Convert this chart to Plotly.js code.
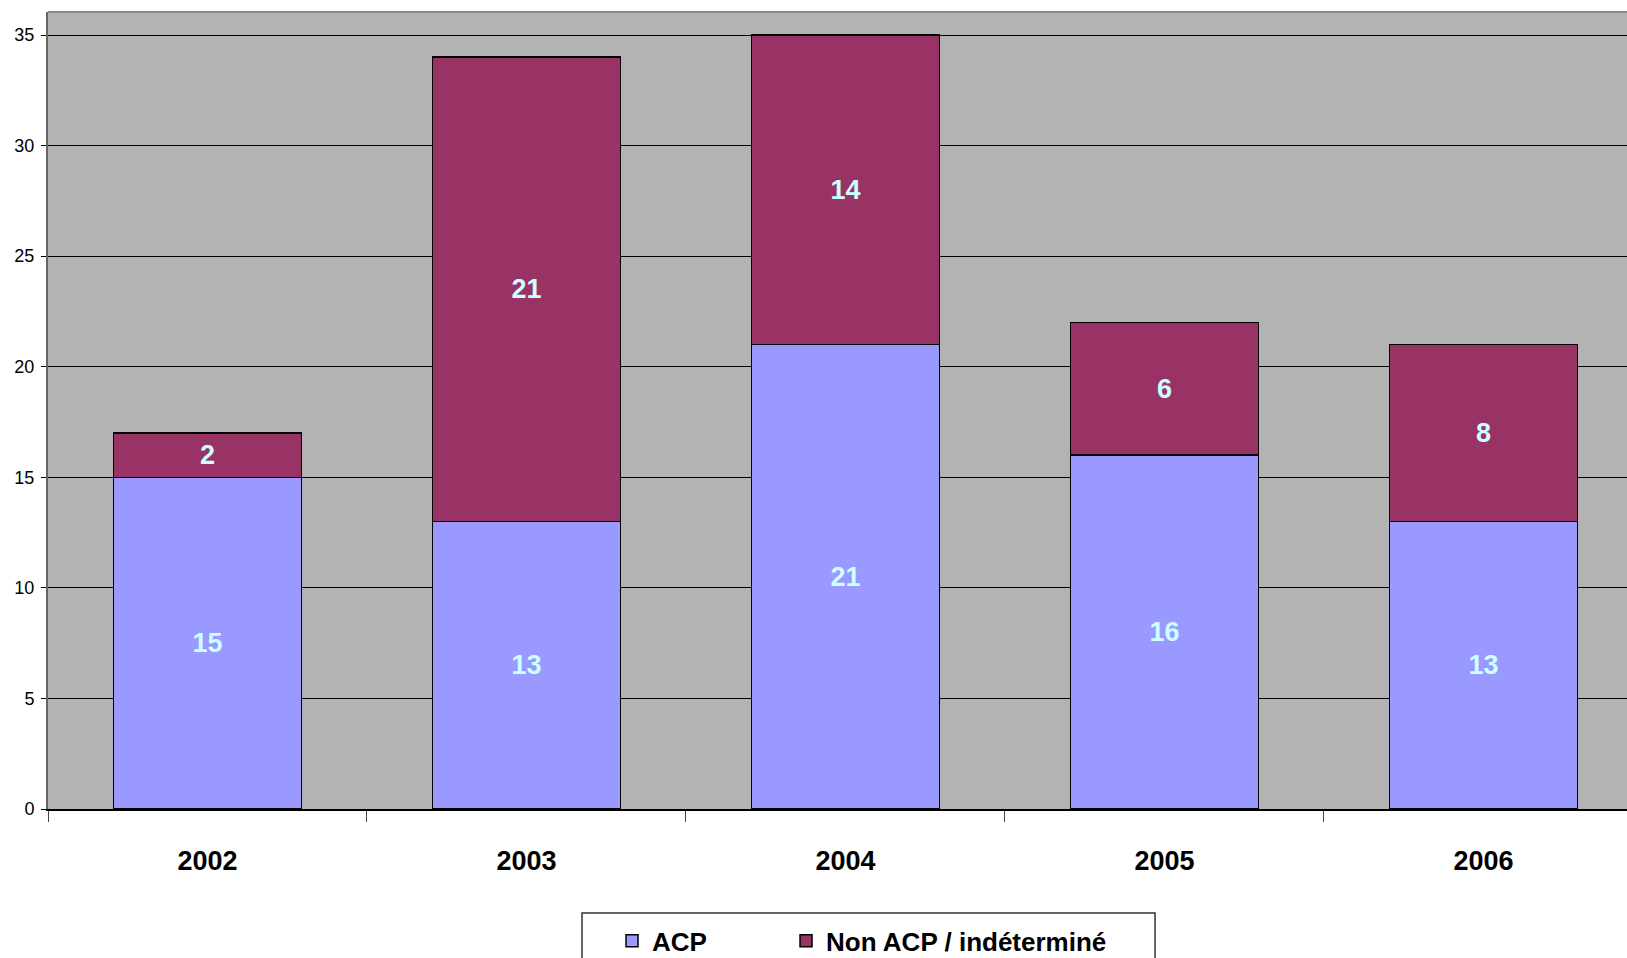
<!DOCTYPE html>
<html><head><meta charset="utf-8">
<script src="https://cdn.plot.ly/plotly-3.0.1.min.js"></script>
<style>html,body{margin:0;padding:0;background:#fff;}#chart{width:1627px;height:958px;}</style>
</head><body><div id="chart"></div>
<script>
const years = ['2002', '2003', '2004', '2005', '2006'];
const acp = [15, 13, 21, 16, 13];
const nonAcp = [2, 21, 14, 6, 8];
const seriesNames = ['ACP', 'Non ACP / indéterminé'];

const FONT = '"Liberation Sans", Arial, sans-serif';
const labelFont = {family: FONT, size: 27, color: '#ccffff', weight: 'bold'};

const common = {
  type: 'bar', x: years, width: 0.59,
  textposition: 'inside', insidetextanchor: 'middle', textangle: 0,
  constraintext: 'none', texttemplate: '%{y}', textfont: labelFont,
  hoverinfo: 'none'
};
const traces = [
  Object.assign({}, common, {name: seriesNames[0], y: acp, legend: 'legend',
    marker: {color: '#9999ff', line: {color: '#000', width: 1.5}}}),
  Object.assign({}, common, {name: seriesNames[1], y: nonAcp, legend: 'legend2',
    marker: {color: '#993366', line: {color: '#000', width: 1.5}}})
];

const legendCommon = {
  orientation: 'h', yanchor: 'top', xanchor: 'left', y: -0.136,
  font: {family: FONT, size: 26, color: '#000', weight: 'bold'},
  borderwidth: 0, bgcolor: 'rgba(0,0,0,0)'
};

const layout = {
  width: 1627, height: 958,
  margin: {l: 48, r: 0, t: 12, b: 149, autoexpand: false},
  paper_bgcolor: '#ffffff', plot_bgcolor: '#b3b3b3',
  barmode: 'stack', bargap: 0.41,
  showlegend: true,
  legend: Object.assign({}, legendCommon, {x: 0.3572}),
  legend2: Object.assign({}, legendCommon, {x: 0.4674}),
  xaxis: {
    type: 'category', range: [-0.5, 4.45],
    ticks: 'outside', ticklen: 11, tickcolor: '#444', tickwidth: 1,
    tickson: 'boundaries', ticklabelstandoff: 27,
    tickfont: {family: FONT, size: 27, color: '#000', weight: 'bold'},
    showline: true, linecolor: '#000', linewidth: 1.5,
    showgrid: false, zeroline: false, fixedrange: true
  },
  yaxis: {
    range: [0, 36.04], dtick: 5, tick0: 0,
    ticks: 'outside', ticklen: 5, tickcolor: '#000', tickwidth: 1,
    ticklabelstandoff: 3,
    tickfont: {family: FONT, size: 18, color: '#000'},
    showgrid: true, gridcolor: '#000', gridwidth: 1,
    showline: true, linecolor: '#666', linewidth: 2,
    zeroline: false, fixedrange: true
  },
  shapes: [
    {type: 'line', xref: 'paper', yref: 'paper', x0: 0, x1: 1, y0: 1, y1: 1,
     line: {color: '#888', width: 2}},
    {type: 'rect', xref: 'paper', yref: 'paper', x0: 0.3382, x1: 0.7011, y0: -0.1305, y1: -0.25,
     line: {color: '#333', width: 1.5}, fillcolor: 'rgba(0,0,0,0)'}
  ]
};

Plotly.newPlot('chart', traces, layout, {displayModeBar: false, staticPlot: true});
</script></body></html>
